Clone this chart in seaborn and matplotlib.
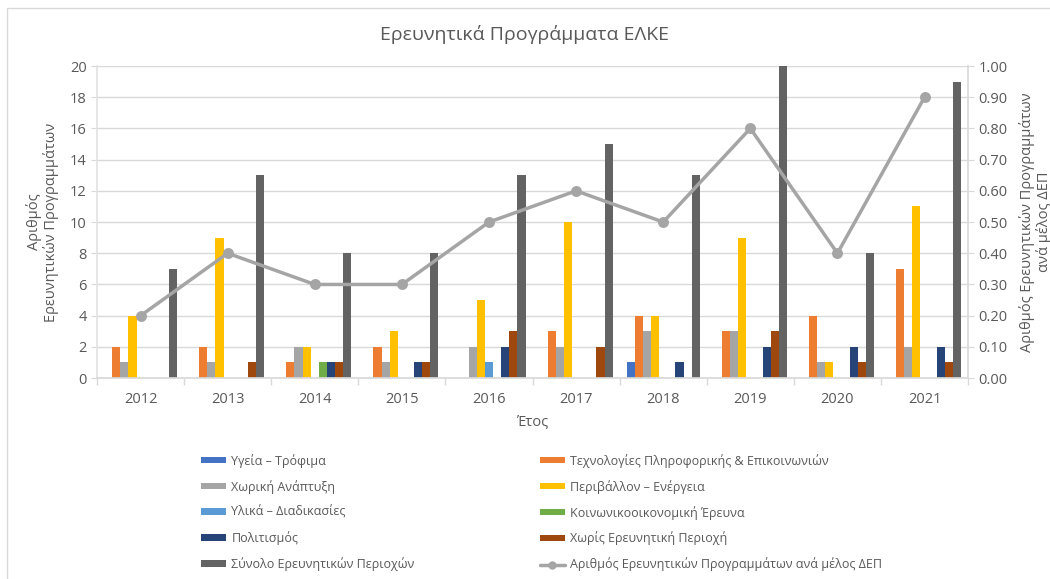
import seaborn as sns
from matplotlib import pyplot as plt
from matplotlib.patches import Rectangle
from matplotlib.lines import Line2D
import numpy as np
import pandas as pd

years = ["2012", "2013", "2014", "2015", "2016", "2017", "2018", "2019", "2020", "2021"]

series_names = [
    "Υγεία – Τρόφιμα",
    "Τεχνολογίες Πληροφορικής & Επικοινωνιών",
    "Χωρική Ανάπτυξη",
    "Περιβάλλον – Ενέργεια",
    "Υλικά – Διαδικασίες",
    "Κοινωνικοοικονομική Έρευνα",
    "Πολιτισμός",
    "Χωρίς Ερευνητική Περιοχή",
    "Σύνολο Ερευνητικών Περιοχών",
]
line_name = "Αριθμός Ερευνητικών Προγραμμάτων ανά μέλος ΔΕΠ"

ygeia = [0, 0, 0, 0, 0, 0, 1, 0, 0, 0]
tpe = [2, 2, 1, 2, 0, 3, 4, 3, 4, 7]
xoriki = [1, 1, 2, 1, 2, 2, 3, 3, 1, 2]
perivallon = [4, 9, 2, 3, 5, 10, 4, 9, 1, 11]
ylika = [0, 0, 0, 0, 1, 0, 0, 0, 0, 0]
koinoniki = [0, 0, 1, 0, 0, 0, 0, 0, 0, 0]
politismos = [0, 0, 1, 1, 2, 0, 1, 2, 2, 2]
xoris = [0, 1, 1, 1, 3, 2, 0, 3, 1, 1]
synolo = [7, 13, 8, 8, 13, 15, 13, 20, 8, 19]
ana_melos = [0.2, 0.4, 0.3, 0.3, 0.5, 0.6, 0.5, 0.8, 0.4, 0.9]

colors = ["#4472C4", "#ED7D31", "#A5A5A5", "#FFC000", "#5B9BD5",
          "#70AD47", "#264478", "#9E480E", "#636363"]
line_color = "#A5A5A5"
text_color = "#595959"

all_series = [ygeia, tpe, xoriki, perivallon, ylika, koinoniki, politismos, xoris, synolo]
rows = []
for name, vals in zip(series_names, all_series):
    for y, v in zip(years, vals):
        rows.append({"Έτος": y, "Σειρά": name, "Τιμή": v})
df = pd.DataFrame(rows)

sns.set_theme(style="white")
plt.rcParams["font.family"] = ["Open Sans", "DejaVu Sans"]

fig = plt.figure(figsize=(10.5, 5.79), dpi=100)
ax = fig.add_axes([0.0924, 0.347, 0.8296, 0.539])

sns.barplot(data=df, x="Έτος", y="Τιμή", hue="Σειρά", hue_order=series_names,
            order=years, palette=colors, width=0.84, saturation=1, ax=ax,
            legend=False, errorbar=None, linewidth=0)

ax.set_ylim(0, 20)
ax.set_yticks(np.arange(0, 21, 2))
ax.set_xlim(-0.5, len(years) - 0.5)
ax.yaxis.grid(True, color="#D9D9D9", lw=1)
ax.set_axisbelow(True)
for s in ["top", "right"]:
    ax.spines[s].set_visible(False)
ax.spines["left"].set_color("#E3E3E3")
ax.spines["bottom"].set_color("#D9D9D9")
ax.tick_params(axis="y", colors=text_color, labelsize=10.5, length=4, width=0.8,
               color="#D9D9D9", left=True)
ax.tick_params(axis="x", colors=text_color, labelsize=10.5, length=0, pad=10)
# category boundary ticks
ax.set_xticks(np.arange(-0.5, len(years)), minor=True)
ax.tick_params(axis="x", which="minor", length=5, color="#D9D9D9", bottom=True)
ax.set_xlabel("Έτος", color=text_color, fontsize=10.5, labelpad=6)
ax.set_ylabel("Αριθμός\nΕρευνητικών Προγραμμάτων", color=text_color, fontsize=10.5,
              labelpad=8, linespacing=1.1)

ax2 = ax.twinx()
sns.pointplot(x=years, y=ana_melos, order=years, color=line_color, markers="o",
              markersize=6, linewidth=2.5, ax=ax2)
ax2.set_ylim(0, 1)
ax2.set_yticks(np.arange(0, 1.01, 0.1))
ax2.set_yticklabels([f"{v:.2f}" for v in np.arange(0, 1.01, 0.1)])
ax2.set_xlim(-0.5, len(years) - 0.5)
for s in ["top", "left", "bottom"]:
    ax2.spines[s].set_visible(False)
ax2.spines["right"].set_color("#D9D9D9")
ax2.tick_params(axis="y", colors=text_color, labelsize=10.5, length=4, width=0.8,
                color="#D9D9D9", right=True)
ax2.set_ylabel("Αριθμός Ερευνητικών Προγραμμάτων\nανά μέλος ΔΕΠ", color=text_color,
               fontsize=10.5, labelpad=8, linespacing=1.1)

fig.text(0.5, 0.94, "Ερευνητικά Προγράμματα ΕΛΚΕ", ha="center", va="center",
         fontsize=14, color=text_color)

# legend (row-wise order in two columns)
handles = [Rectangle((0, 0), 1, 1, fc=c, ec="none") for c in colors]
handles.append(Line2D([0], [0], color=line_color, lw=2.5, marker="o", markersize=5))
labels = series_names + [line_name]
order = [0, 2, 4, 6, 8, 1, 3, 5, 7, 9]
leg = fig.legend([handles[i] for i in order], [labels[i] for i in order],
                 loc="upper left", bbox_to_anchor=(0.187, 0.225), ncol=2,
                 frameon=False, fontsize=9, handlelength=2.0, handleheight=0.45,
                 columnspacing=10.0, labelspacing=0.97, handletextpad=0.4,
                 borderaxespad=0)
for t in leg.get_texts():
    t.set_color(text_color)

# chart area border
fig.add_artist(Rectangle((7 / 1050, -0.1), 1.2, 1 - 8 / 579 + 0.1,
                         transform=fig.transFigure, fill=False, ec="#D9D9D9", lw=1))

fig.savefig("out.png", dpi=100)
